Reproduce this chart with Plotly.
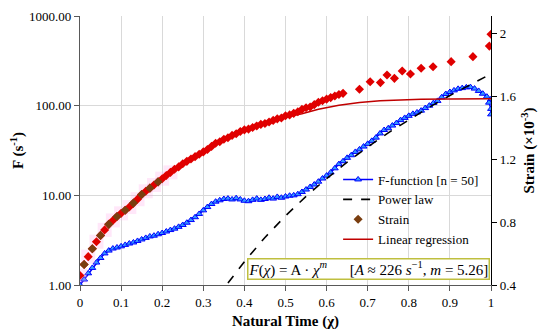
import plotly.graph_objects as go

# ---------------- data ----------------
# F-function (left, log axis), chi step 0.01 plus final drop points
f_chi = [i / 100 for i in range(101)] + [0.995, 1.0, 1.0]
f_vals = [1.00, 1.15, 1.35, 1.55, 1.78, 2.00, 2.25, 2.42, 2.55, 2.62,
          2.70, 2.80, 2.90, 2.98, 3.10, 3.22, 3.35, 3.48, 3.55, 3.68,
          3.80, 3.95, 4.10, 4.25, 4.45, 4.67, 4.95, 5.30, 5.70, 6.20,
          6.80, 7.40, 8.00, 8.50, 8.80, 9.10, 9.20, 9.00, 9.30, 9.00,
          8.70, 8.60, 8.90, 9.20, 8.90, 9.10, 9.40, 9.20, 9.60, 9.40,
          9.70, 9.90, 10.0, 10.3, 10.9, 11.6, 12.4, 13.2, 14.2, 15.4,
          16.6, 18.0, 20.0, 22.3, 24.0, 26.2, 28.0, 30.5, 32.5, 35.0,
          37.5, 40.5, 44.0, 49.0, 53.5, 56.0, 60.0, 64.0, 69.0, 73.0,
          77.0, 81.0, 84.0, 88.0, 94.0, 100, 107, 113, 124, 135,
          142, 148, 154, 157, 160, 161, 155, 146, 136, 126,
          118, 108, 92, 80]

# Power law curve (left axis)
pl_chi = [0.36, 0.40, 0.45, 0.50, 0.55, 0.60, 0.65, 0.70, 0.75, 0.80, 0.85, 0.90, 0.95, 1.00]
pl_vals = [1.05, 1.82, 3.39, 5.90, 9.74, 15.4, 23.4, 34.6, 49.8, 69.9, 96.1, 130, 172, 226]

# Strain (right axis, x10^-3)
strain_chi = [i / 100 for i in range(64)] + [0.64, 0.68, 0.706, 0.731, 0.747, 0.765, 0.784,
                                             0.804, 0.83, 0.859, 0.903, 0.956, 0.996, 1.0]
strain_vals = [0.46, 0.53, 0.58, 0.63, 0.675, 0.715, 0.75, 0.785, 0.81, 0.835,
               0.855, 0.875, 0.895, 0.92, 0.945, 0.975, 0.995, 1.015, 1.035, 1.055,
               1.075, 1.095, 1.115, 1.135, 1.15, 1.17, 1.185, 1.20, 1.215, 1.23,
               1.245, 1.26, 1.28, 1.30, 1.31, 1.325, 1.335, 1.35, 1.36, 1.375,
               1.385, 1.39, 1.40, 1.41, 1.42, 1.425, 1.435, 1.445, 1.455, 1.46,
               1.475, 1.48, 1.49, 1.50, 1.515, 1.525, 1.53, 1.545, 1.56, 1.57,
               1.58, 1.59, 1.60, 1.61,
               1.617, 1.643, 1.691, 1.685, 1.733, 1.712, 1.759,
               1.740, 1.776, 1.786, 1.818, 1.850, 1.917, 1.992]

# Linear regression curve (right axis)
reg_chi = [0.45, 0.50, 0.54, 0.58, 0.63, 0.68, 0.73, 0.78, 0.83, 0.90, 1.00]
reg_vals = [1.425, 1.465, 1.487, 1.516, 1.541, 1.558, 1.570, 1.576, 1.579, 1.581, 1.582]

x_ticks = [0, 0.1, 0.2, 0.3, 0.4, 0.5, 0.6, 0.7, 0.8, 0.9, 1]
x_ticktext = ["0", "0.1", "0.2", "0.3", "0.4", "0.5", "0.6", "0.7", "0.8", "0.9", "1"]
yl_ticks = [1, 10, 100, 1000]
yl_ticktext = ["1.00", "10.00", "100.00", "1000.00"]
yr_ticks = [0.4, 0.8, 1.2, 1.6, 2.0]
yr_ticktext = ["0.4", "0.8", "1.2", "1.6", "2"]

FONT = "Liberation Serif"

fig = go.Figure()

# pink haze around the early strain points
haze_chi = [c for c in strain_chi if c <= 0.22][::2]
haze_vals = [v for c, v in zip(strain_chi, strain_vals) if c <= 0.22][::2]
fig.add_trace(go.Scatter(x=haze_chi, y=haze_vals, yaxis="y2", mode="markers",
                         marker=dict(symbol="square", size=14, color="rgba(255,160,230,0.25)"),
                         showlegend=False, hoverinfo="skip"))

fig.add_trace(go.Scatter(x=f_chi, y=f_vals, mode="lines+markers", name="F-function [n = 50]",
                         line=dict(color="#0000FF", width=1.5),
                         marker=dict(symbol="triangle-up", size=6, color="#3399FF",
                                     line=dict(color="#0000FF", width=1)),
                         legendgroup="a", legendrank=1))
fig.add_trace(go.Scatter(x=pl_chi, y=pl_vals, mode="lines", name="Power law",
                         line=dict(color="black", width=1.6, dash="dash"),
                         legendgroup="b", legendrank=2))
fig.add_trace(go.Scatter(x=reg_chi, y=reg_vals, yaxis="y2", mode="lines", name="Linear regression",
                         line=dict(color="#C00000", width=1.5),
                         legendgroup="d", legendrank=4))
fig.add_trace(go.Scatter(x=strain_chi, y=strain_vals, yaxis="y2", mode="markers",
                         marker=dict(symbol="diamond", size=7, color="#E00000"),
                         showlegend=False))
brown_chi = [c for c in strain_chi if c <= 0.2][1::2]
brown_vals = [v for c, v in zip(strain_chi, strain_vals) if c <= 0.2][1::2]
fig.add_trace(go.Scatter(x=brown_chi, y=brown_vals, yaxis="y2", mode="markers", name="Strain",
                         marker=dict(symbol="diamond", size=7, color="#7A3E10"),
                         legendgroup="c", legendrank=3))

# page body has an 8px margin, so the figure is 8px smaller and offset
fig.update_layout(
    width=542, height=328,
    margin=dict(l=72, r=59, t=8, b=51, autoexpand=False),
    paper_bgcolor="white", plot_bgcolor="white",
    font=dict(family=FONT, size=13, color="black"),
    showlegend=True,
    legend=dict(x=0.628, y=0.448, xanchor="left", yanchor="top",
                bgcolor="rgba(255,255,255,0)", borderwidth=0, font=dict(family=FONT, size=13),
                traceorder="normal", tracegroupgap=5,
                itemwidth=30),
    xaxis=dict(range=[0, 1], tickvals=x_ticks, ticktext=x_ticktext,
               showgrid=True, gridcolor="#D9D9D9", gridwidth=1,
               showline=True, linecolor="#595959", linewidth=1.2,
               ticks="outside", ticklen=5, tickcolor="#595959",
               zeroline=False, automargin=False,
               title=dict(text="<b>Natural Time (χ)</b>", font=dict(family=FONT, size=15), standoff=6)),
    yaxis=dict(type="log", range=[0, 3], tickvals=yl_ticks, ticktext=yl_ticktext,
               showgrid=True, gridcolor="#D9D9D9", gridwidth=1,
               showline=True, linecolor="#595959", linewidth=1.2,
               ticks="outside", ticklen=5, tickcolor="#595959", automargin=False,
               title=dict(text="<b>F (s<sup>-1</sup>)</b>", font=dict(family=FONT, size=15), standoff=8)),
    yaxis2=dict(overlaying="y", side="right", range=[0.4, 2.108],
                tickvals=yr_ticks, ticktext=yr_ticktext, showgrid=False, zeroline=False,
                showline=True, linecolor="black", linewidth=1.2,
                ticks="outside", ticklen=5, tickcolor="black", automargin=False,
                title=dict(text="<b>Strain (×10<sup>-3</sup>)</b>", font=dict(family=FONT, size=15), standoff=8)),
)

fig.add_annotation(
    xref="paper", yref="paper", x=0.997, y=0.018, xanchor="right", yanchor="bottom",
    text="<i>F</i>(<i>χ</i>) = A · <i>χ</i><sup><i>m</i></sup>&#160;&#160;&#160;&#160;&#160;&#160;[<i>A</i> ≈ 226 <i>s</i><sup>−1</sup>, <i>m</i> = 5.26]",
    showarrow=False, font=dict(family=FONT, size=15, color="black"),
    bgcolor="white", bordercolor="#BFBF3F", borderwidth=1.5, borderpad=0,
)

fig.write_html("out.html")
